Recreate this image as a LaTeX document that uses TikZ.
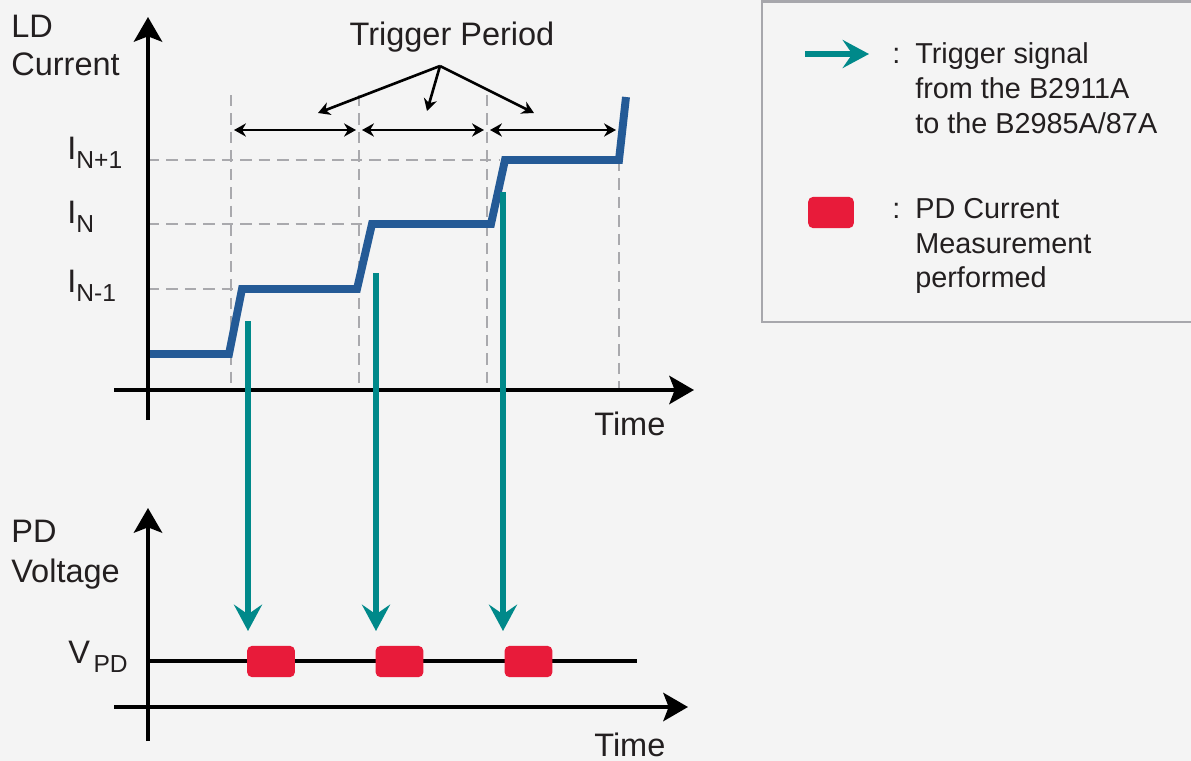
\documentclass[tikz,border=0pt]{standalone}
\usepackage{fontspec}
\setmainfont{Liberation Sans}
\usetikzlibrary{arrows.meta, positioning}
\definecolor{ldblue}{HTML}{245A96}
\definecolor{trigteal}{HTML}{00898A}
\definecolor{measred}{HTML}{E81B3A}
\definecolor{guidegray}{HTML}{A9A9AD}
\definecolor{boxgray}{HTML}{A7A7AC}
\definecolor{bggray}{HTML}{F4F4F4}
\definecolor{txt}{HTML}{231F20}
\tikzstyle{axisline} = [draw, line width=2.6pt, -{Stealth[length=14pt,width=16pt,inset=3pt]}]
\tikzstyle{guide} = [draw, guidegray, line width=1.3pt, dash pattern=on 6.5pt off 4pt]
\tikzstyle{ldcurve} = [draw, ldblue, line width=4.5pt, line join=miter]
\tikzstyle{trig} = [draw, trigteal, line width=3pt, -{Stealth[length=15pt,width=16pt,inset=5.5pt]}]
\tikzstyle{period} = [draw, line width=1.5pt, {Stealth[length=6.8pt,width=7.5pt,inset=2.2pt]}-{Stealth[length=6.8pt,width=7.5pt,inset=2.2pt]}]
\tikzstyle{pointer} = [draw, line width=1.5pt, -{Stealth[length=6.8pt,width=7.5pt,inset=2.2pt]}]
\tikzstyle{meas} = [rectangle, fill=measred, rounded corners=2.8pt, minimum width=27.2pt, minimum height=17.8pt, inner sep=0]
\tikzstyle{lbl} = [inner sep=0, text=txt, font=\fontsize{18.5}{22}\selectfont, anchor=base west]
\tikzstyle{legtxt} = [inner sep=0, text=txt, font=\fontsize{16.4}{19}\selectfont, anchor=base west]
\newcommand{\subidx}[1]{\raisebox{-5.5pt}{\fontsize{14}{14}\selectfont #1}}

\begin{document}
\begin{tikzpicture}[x=0.02cm, y=-0.02cm]
	\fill[bggray] (0,0) rectangle (1191,761);
	\useasboundingbox (0,0) rectangle (1191,761);

	% guide lines
	\path [guide] (231,95) -- (231,390);
	\path [guide] (359,95) -- (359,390);
	\path [guide] (487,95) -- (487,390);
	\path [guide] (619,160) -- (619,390);
	\path [guide] (148,160) -- (500,160);
	\path [guide] (148,224) -- (370,224);
	\path [guide] (148,289) -- (239,289);

	% LD current
	\path [ldcurve] (148,354) -- (229,354) -- (242,289) -- (357,289) -- (372,224) -- (491,224) -- (505,160) -- (619,160) -- (626,97);

	% axes
	\coordinate (o1) at (148,420);
	\coordinate (y1) at (148,17);
	\coordinate (l1) at (114,390);
	\coordinate (x1) at (694,390);
	\coordinate (o2) at (148,741);
	\coordinate (y2) at (148,508);
	\coordinate (l2) at (114,707);
	\coordinate (x2) at (688,707);
	\path [axisline] (o1) -- (y1);
	\path [axisline] (l1) -- (x1);
	\path [axisline] (o2) -- (y2);
	\path [axisline] (l2) -- (x2);

	% PD voltage
	\coordinate (v0) at (148,661);
	\coordinate (v1) at (637,661);
	\draw [line width=1.8pt] (v0) -- (v1);
	\node [meas] (m1) at (271,661.5) {};
	\node [meas] (m2) at (399.5,661.5) {};
	\node [meas] (m3) at (528.5,661.5) {};

	% trigger signals
	\coordinate (t1) at (248,321);
	\coordinate (t2) at (376,273);
	\coordinate (t3) at (503,192);
	\coordinate (h1) at (248,631);
	\coordinate (h2) at (376,631);
	\coordinate (h3) at (503,631);
	\path [trig] (t1) -- (h1);
	\path [trig] (t2) -- (h2);
	\path [trig] (t3) -- (h3);

	% trigger period
	\coordinate (p0) at (234,130);
	\coordinate (p1) at (356,130);
	\coordinate (p2) at (362,130);
	\coordinate (p3) at (484,130);
	\coordinate (p4) at (490,130);
	\coordinate (p5) at (616,130);
	\path [period] (p0) -- (p1);
	\path [period] (p2) -- (p3);
	\path [period] (p4) -- (p5);
	\node [lbl, anchor=base] (tp) at (452,45) {Trigger Period};
	\coordinate (hub) at (440,66);
	\coordinate (q1) at (318,113);
	\coordinate (q2) at (427,111);
	\coordinate (q3) at (534,113);
	\path [pointer] (hub) -- (q1);
	\path [pointer] (hub) -- (q2);
	\path [pointer] (hub) -- (q3);

	% labels
	\node [lbl] (ld) at (11,37) {LD};
	\node [lbl] (cur) at (11,75) {Current};
	\node [lbl] (pd) at (11,542) {PD};
	\node [lbl] (volt) at (11,582) {Voltage};
	\node [lbl] (time1) at (594,435) {Time};
	\node [lbl] (time2) at (594,756) {Time};
	\node [lbl] (inp) at (67,159) {I\subidx{N+1}};
	\node [lbl] (in) at (67,223) {I\subidx{N}};
	\node [lbl] (inm) at (67,292) {I\subidx{N-1}};
	\node [lbl] (vpd) at (68,663) {V\hspace{2pt}\subidx{PD}};

	% legend
	\draw [boxgray, line width=1.7pt] (762,1.5) rectangle (1210,322);
	\coordinate (la0) at (805,54);
	\coordinate (la1) at (869,54);
	\path [trig] (la0) -- (la1);
	\node [legtxt] (c1) at (892,63) {:};
	\node [legtxt] (sig1) at (915,63) {Trigger signal};
	\node [legtxt] (sig2) at (915,98) {from the B2911A};
	\node [legtxt] (sig3) at (915,133) {to the B2985A/87A};
	\node [meas, minimum width=26pt] (lm) at (831,212.5) {};
	\node [legtxt] (c2) at (892,218) {:};
	\node [legtxt] (mes1) at (915,218) {PD Current};
	\node [legtxt] (mes2) at (915,253) {Measurement};
	\node [legtxt] (mes3) at (915,287) {performed};
\end{tikzpicture}
\end{document}
